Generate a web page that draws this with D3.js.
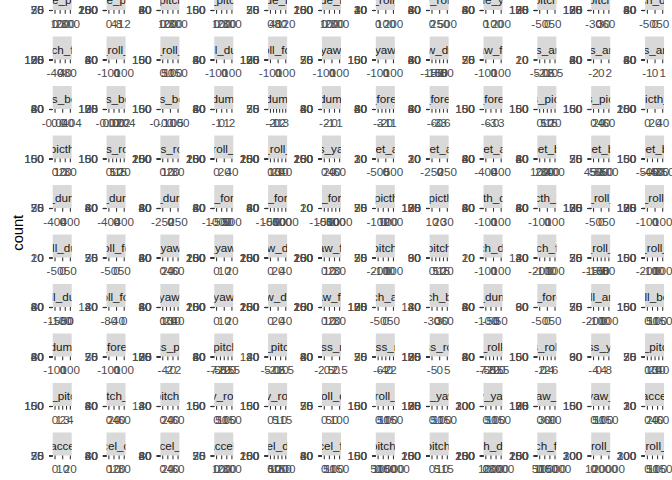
<!DOCTYPE html>
<html>
<head>
<meta charset="utf-8">
<script src="https://cdn.jsdelivr.net/npm/d3@7"></script>
<style>
  html, body { margin: 0; padding: 0; background: #ffffff; }
  svg { display: block; font-family: "Liberation Sans", Arial, Helvetica, sans-serif; }
</style>
</head>
<body>
<svg id="chart" width="672" height="480"></svg>
<script>
// ---------------- DATA ----------------
// facet variables (alphabetical, facet_wrap order, 12 columns)
const facetNames = [
  "accel_arm_x","accel_arm_y","accel_arm_z","accel_belt_x","accel_belt_y","accel_belt_z","accel_dumbbell_x","accel_dumbbell_y","accel_dumbbell_z","accel_forearm_x","accel_forearm_y","accel_forearm_z",
  "amplitude_pitch_arm","amplitude_pitch_belt","amplitude_pitch_dumbbell","amplitude_pitch_forearm","amplitude_roll_arm","amplitude_roll_belt","amplitude_roll_dumbbell","amplitude_roll_forearm","amplitude_yaw_arm","avg_pitch_arm","avg_pitch_belt","avg_pitch_dumbbell",
  "avg_pitch_forearm","avg_roll_arm","avg_roll_belt","avg_roll_dumbbell","avg_roll_forearm","avg_yaw_arm","avg_yaw_belt","avg_yaw_dumbbell","avg_yaw_forearm","gyros_arm_x","gyros_arm_y","gyros_arm_z",
  "gyros_belt_x","gyros_belt_y","gyros_belt_z","gyros_dumbbell_x","gyros_dumbbell_y","gyros_dumbbell_z","gyros_forearm_x","gyros_forearm_y","gyros_forearm_z","kurtosis_picth_arm","kurtosis_picth_belt","kurtosis_picth_dumbbell",
  "kurtosis_picth_forearm","kurtosis_roll_arm","kurtosis_roll_belt","kurtosis_roll_dumbbell","kurtosis_roll_forearm","kurtosis_yaw_arm","magnet_arm_x","magnet_arm_y","magnet_arm_z","magnet_belt_x","magnet_belt_y","magnet_belt_z",
  "magnet_dumbbell_x","magnet_dumbbell_y","magnet_dumbbell_z","magnet_forearm_x","magnet_forearm_y","magnet_forearm_z","max_picth_arm","max_picth_belt","max_picth_dumbbell","max_picth_forearm","max_roll_arm","max_roll_belt",
  "max_roll_dumbbell","max_roll_forearm","max_yaw_arm","max_yaw_belt","max_yaw_dumbbell","max_yaw_forearm","min_pitch_arm","min_pitch_belt","min_pitch_dumbbell","min_pitch_forearm","min_roll_arm","min_roll_belt",
  "min_roll_dumbbell","min_roll_forearm","min_yaw_arm","min_yaw_belt","min_yaw_dumbbell","min_yaw_forearm","pitch_arm","pitch_belt","pitch_dumbbell","pitch_forearm","roll_arm","roll_belt",
  "roll_dumbbell","roll_forearm","skewness_pitch_arm","skewness_pitch_dumbbell","skewness_pitch_forearm","skewness_roll_arm","skewness_roll_belt","skewness_roll_belt.1","skewness_roll_dumbbell","skewness_roll_forearm","skewness_yaw_arm","stddev_pitch_arm",
  "stddev_pitch_belt","stddev_pitch_dumbbell","stddev_pitch_forearm","stddev_roll_arm","stddev_roll_belt","stddev_roll_dumbbell","stddev_roll_forearm","stddev_yaw_arm","stddev_yaw_belt","stddev_yaw_dumbbell","stddev_yaw_forearm","total_accel_arm",
  "total_accel_belt","total_accel_dumbbell","total_accel_forearm","var_accel_arm","var_accel_dumbbell","var_accel_forearm","var_pitch_arm","var_pitch_belt","var_pitch_dumbbell","var_pitch_forearm","var_roll_arm","var_roll_belt",
  "var_roll_dumbbell","var_roll_forearm","var_total_accel_belt","var_yaw_arm","var_yaw_belt","var_yaw_dumbbell","var_yaw_forearm","yaw_arm","yaw_belt","yaw_dumbbell","yaw_forearm"
];

// count-axis tick sets
const Y20 = [0,10,20], Y25 = [0,25,50,75], Y30 = [0,10,20,30], Y40 = [0,10,20,30,40],
      Y80 = [0,20,40,60,80], Y90 = [0,30,60,90], Y120 = [0,40,80,120],
      Y125 = [0,25,50,75,100,125], Y150 = [0,50,100,150], Y200 = [0,50,100,150,200],
      Y250 = [0,50,100,150,200,250], Y300 = [0,100,200,300];

const countBreaks = [
  Y80,Y25,Y80,Y150,Y80,Y25,Y80,Y80,Y25,Y80,Y80,Y80,
  Y25,Y250,Y80,Y150,Y25,Y200,Y40,Y80,Y80,Y125,Y125,Y80,
  Y125,Y80,Y150,Y80,Y125,Y25,Y150,Y80,Y25,Y20,Y80,Y80,
  Y80,Y125,Y150,Y80,Y25,Y80,Y80,Y80,Y150,Y150,Y150,Y200,
  Y150,Y150,Y250,Y250,Y250,Y250,Y30,Y30,Y80,Y80,Y25,Y150,
  Y25,Y80,Y80,Y80,Y80,Y20,Y25,Y125,Y80,Y80,Y125,Y125,
  Y20,Y25,Y80,Y250,Y250,Y250,Y25,Y90,Y20,Y120,Y25,Y150,
  Y80,Y120,Y80,Y250,Y250,Y250,Y125,Y120,Y80,Y90,Y25,Y150,
  Y80,Y25,Y125,Y80,Y120,Y80,Y25,Y125,Y80,Y150,Y90,Y25,
  Y150,Y80,Y120,Y150,Y150,Y25,Y150,Y125,Y300,Y125,Y150,Y30,
  Y25,Y80,Y80,Y25,Y200,Y80,Y150,Y200,Y250,Y250,Y300,Y300,
  Y300,Y250,Y250,Y250,Y250,Y250,Y250,Y80,Y150,Y80,Y80
];

// value-axis breaks per facet
const valueBreaks = [
  [-200,0,200],[-200,0,200],[-500,0,500],[-50,0,50],[0,50,100],[-200,-100,0],[-200,0,200],[-200,0,200,400],[-200,0,200],[-400,0,400],[-400,0,400],[-600,-300,0,300],
  [0,100,200,300],[0,4,8,12],[0,100,200,300],[0,100,200,300],[0,40,80,120],[0,100,200,300],[0,100,200],[0,250,500],[0,100,200],[-50,0,50],[-30,0,30,60],[-50,0,50],
  [-40,0,40,80],[-100,0,100],[0,50,100,150],[-100,0,100],[-100,0,100],[-100,0,100],[-100,0,100],[-150,-100,-50,0,50],[-100,0,100],[-5,-2.5,0,2.5],[-2,0,2],[-1,0,1],
  [-0.04,0,0.04],[-0.02,0,0.02,0.04],[-0.1,-0.05,0],[-1,0,1,2],[-2,-1,0,1,2,3],[-2,-1,0,1],[-3,-2,-1,0,1],[-6,-3,0,3,6],[-6,-3,0,3],[0,5,10,15,20],[0,20,40,60],[0,20,40],
  [0,10,20,30],[0,5,10,15,20],[0,10,20,30],[0,20,40],[0,10,20,30,40],[0,20,40,60],[-500,0,500],[-250,0,250],[-400,0,400],[100,200,300,400],[450,500,550,600],[-500,-450,-400,-350],
  [-400,0,400],[-400,0,400],[-250,0,250],[-1000,-500,0,500],[-1000,-500,0,500,1000],[-1000,-500,0,500,1000],[-100,0,100,200],[10,20,30],[-100,0,100],[-100,0,100],[-50,0,50],[-100,0,100],
  [-50,0,50],[-50,0,50],[0,20,40,60],[0,10,20],[0,20,40],[0,10,20,30],[-200,-100,0,100],[0,5,10,15,20],[-100,0,100],[-200,-100,0,100],[-150,-100,-50,0,50],[-200,-100,0,100],
  [-150,-100,-50,0],[-80,-40,0],[0,10,20,30,40],[0,10,20],[0,20,40],[0,10,20,30],[-50,0,50],[-30,0,30,60],[-100,-50,0,50],[-50,0,50],[-200,-100,0,100],[0,50,100,150],
  [-100,0,100],[-100,0,100],[-4,-2,0,2],[-7.5,-5,-2.5,0,2.5],[-5,-2.5,0,2.5],[-2.5,0,2.5],[-6,-4,-2,0,2],[-5,0,5],[-7.5,-5,-2.5,0,2.5],[-2,0,2,4,6],[-4,0,4,8],[0,10,20,30,40],
  [0,1,2,3,4],[0,20,40,60],[0,20,40,60],[0,50,100,150],[0,5,10,15],[0,50,100],[0,50,100,150],[0,50,100,150],[0,50,100,150],[0,30,60,90],[0,50,100,150],[0,20,40,60],
  [0,10,20],[0,10,20,30],[0,20,40,60],[0,100,200,300],[0,50,100,150,200],[0,50,100,150],[0,5000,10000,15000],[0,5,10,15],[0,1000,2000,3000],[0,5000,10000,15000],[0,10000,20000],[0,50,100,150],
  [0,10000,20000],[0,10000,20000],[0,50,100],[0,10000,20000,30000],[0,100,200,300],[0,5000,10000],[0,5000,10000],[-100,0,100],[-100,0,100,200],[-100,0,100],[-100,0,100]
];

const yTitle = "count";

// ---------------- LAYOUT ----------------
const nCols = 12;
const panelLeft0 = 52.7, colStep = 53.85, panelW = 19;
const rowY0 = -39.5, rowStep = 49.5, stripH = 23;
const tickLen = 3.67;
const axisFont = "11.7px", stripFont = "11.7px";

const svg = d3.select("#chart");

function decimals(v) {
  const s = String(v);
  const i = s.indexOf(".");
  return i < 0 ? 0 : s.length - i - 1;
}

facetNames.forEach((name, i) => {
  const row = Math.floor(i / nCols), col = i % nCols;
  const x0 = panelLeft0 + col * colStep;
  const ty = rowY0 + row * rowStep;
  const xb = valueBreaks[i];
  const yb = countBreaks[i];
  const span = xb[xb.length - 1] - xb[0];
  const pad = span * 0.12;

  const x = d3.scaleLinear().domain([xb[0] - pad, xb[xb.length - 1] + pad]).range([x0, x0 + panelW]);
  // collapsed panel: the count scale has zero height
  const y = d3.scaleLinear().domain([0, d3.max(yb)]).range([ty, ty]);

  const g = svg.append("g").attr("class", "panel");

  // strip
  const clipId = "clip" + i;
  g.append("clipPath").attr("id", clipId)
    .append("rect").attr("x", x0).attr("y", ty - stripH).attr("width", panelW).attr("height", stripH);
  g.append("rect").attr("x", x0).attr("y", ty - stripH).attr("width", panelW).attr("height", stripH)
    .attr("fill", "#D9D9D9");
  g.append("text").attr("clip-path", `url(#${clipId})`)
    .attr("x", x0 + panelW / 2).attr("y", ty - 5.9)
    .attr("text-anchor", "middle").attr("font-size", stripFont).attr("fill", "#1A1A1A")
    .text(name);

  // count axis
  const dx = d3.max(xb.map(decimals));
  const gy = g.append("g").attr("transform", `translate(${x0},0)`)
    .call(d3.axisLeft(y).tickValues(yb).tickSize(tickLen).tickPadding(5.2).tickFormat(d3.format("d")));
  // value axis
  const gx = g.append("g").attr("transform", `translate(0,${ty})`)
    .call(d3.axisBottom(x).tickValues(xb).tickSize(tickLen).tickPadding(5.6)
      .tickFormat(v => (v < 0 ? "-" : "") + Math.abs(v).toFixed(dx)));

  [gy, gx].forEach(a => {
    a.attr("font-family", null).attr("font-size", null);
    a.select(".domain").remove();
    a.selectAll(".tick line").attr("stroke", "#333333").attr("stroke-width", 1.07);
    a.selectAll(".tick text").attr("fill", "#4D4D4D").attr("font-size", axisFont);
  });
});

// y title
svg.append("text")
  .attr("transform", `translate(23.2,${(rowY0 + rowY0 + 11 * rowStep) / 2}) rotate(-90)`)
  .attr("text-anchor", "middle").attr("font-size", "14.67px").attr("fill", "#000000")
  .text(yTitle);
</script>
</body>
</html>
